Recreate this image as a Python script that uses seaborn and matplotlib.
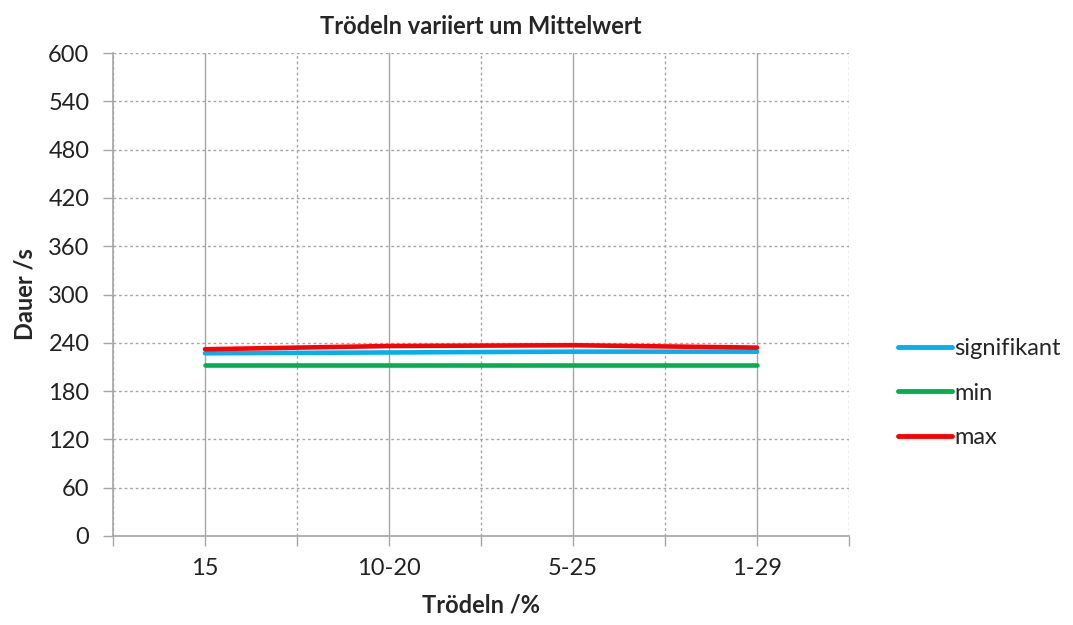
import matplotlib
matplotlib.use("Agg")
import matplotlib.pyplot as plt
from matplotlib.ticker import FixedLocator, NullFormatter
import seaborn as sns
import pandas as pd

# data
categories = ["15", "10-20", "5-25", "1-29"]
signifikant = [227, 228, 229, 229]
min_vals = [213, 213, 213, 213]
max_vals = [232, 236, 237, 234]

series_names = ["signifikant", "min", "max"]
colors = {"signifikant": "#00b0f0", "min": "#00b050", "max": "#ff0000"}

rows = []
for name, vals in zip(series_names, [signifikant, min_vals, max_vals]):
    for i, (cat, v) in enumerate(zip(categories, vals)):
        rows.append({"pos": 2 * i + 1, "Kategorie": cat, "Dauer": v, "Serie": name})
df = pd.DataFrame(rows)

sns.set_theme(style="white")
plt.rcParams["font.family"] = ["Lato", "DejaVu Sans"]

fig = plt.figure(figsize=(10.73, 6.25), dpi=100)
ax = fig.add_axes([113 / 1073, 1 - 536 / 625, (849 - 113) / 1073, (536 - 53) / 625])

sns.lineplot(data=df, x="pos", y="Dauer", hue="Serie", palette=colors,
             hue_order=series_names, linewidth=3.3, ax=ax, legend=True)

ax.set_xlim(0, 8)
ax.set_ylim(0, 600)
ax.set_yticks(range(0, 601, 60))

# category ticks (solid grid) and in-between ticks (dashed grid)
ax.xaxis.set_major_locator(FixedLocator([1, 3, 5, 7]))
ax.set_xticklabels(categories)
ax.xaxis.set_minor_locator(FixedLocator([0, 2, 4, 6, 8]))
ax.xaxis.set_minor_formatter(NullFormatter())

ax.grid(axis="x", which="major", color="#a6a6a6", linestyle="-", linewidth=1)
ax.grid(axis="x", which="minor", color="#a6a6a6", linestyle=(0, (2, 2)), linewidth=1)
ax.grid(axis="y", which="major", color="#a6a6a6", linestyle=(0, (2, 2)), linewidth=1)
ax.set_axisbelow(True)

for side in ["top", "right"]:
    ax.spines[side].set_visible(False)
for side in ["left", "bottom"]:
    ax.spines[side].set_color("#a6a6a6")
    ax.spines[side].set_linewidth(1.2)

ax.tick_params(axis="both", which="both", direction="out", color="#a6a6a6",
               length=7, width=1, labelsize=17, labelcolor="#222222")
ax.tick_params(axis="x", which="both", bottom=True, pad=9)
ax.tick_params(axis="y", left=True, pad=10)

ax.set_xlabel("Trödeln /%", fontsize=17, fontweight="bold", labelpad=10)
ax.set_ylabel("Dauer /s", fontsize=17, fontweight="bold", labelpad=8)
ax.set_title("Trödeln variiert um Mittelwert", fontsize=17, fontweight="bold", pad=14)

leg = ax.legend(loc="center left", bbox_to_anchor=(1.066, 0.296), frameon=False,
                fontsize=17, handlelength=2.3, handletextpad=0.1, labelspacing=1.0,
                borderaxespad=0, borderpad=0)
for line in leg.get_lines():
    line.set_linewidth(3.5)

fig.savefig("out.png", dpi=100)
